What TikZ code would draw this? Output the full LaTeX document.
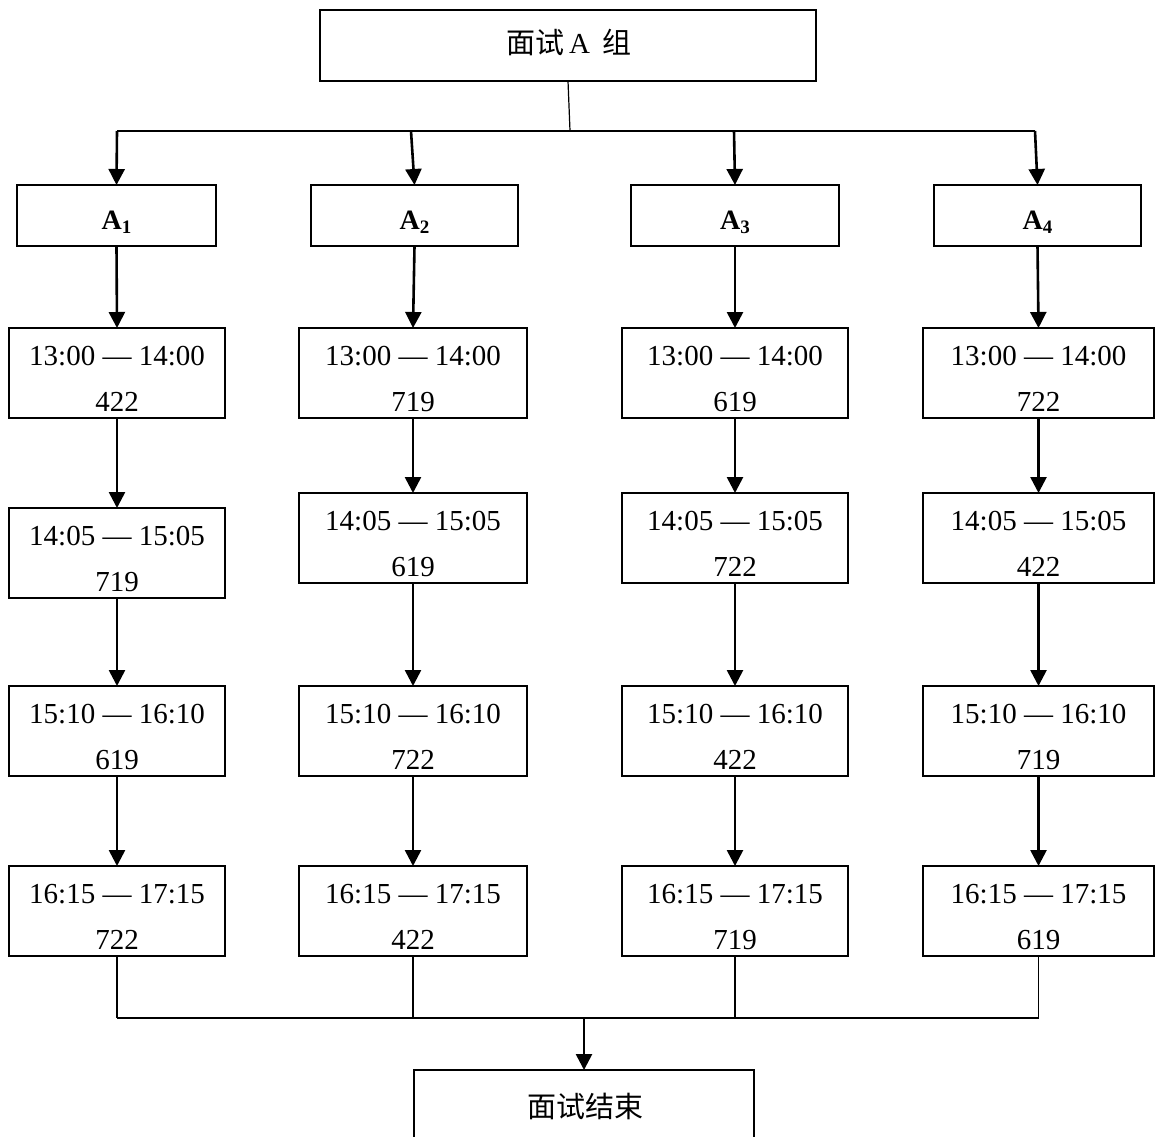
\documentclass[tikz,border=0pt]{standalone}
\usepackage{fontspec}
\setmainfont{Liberation Serif}
\newfontfamily\cjk{Noto Sans CJK SC}
\usetikzlibrary{arrows.meta}
\newcommand\mytbox[6]{%
  \node[box, minimum width=#4, minimum height=90] (#1) at (#2,#3+45) {};
  \node[lbl] (#1la) at (#2,#3+37) {#5};
  \node[lbl] (#1lb) at (#2,#3+83) {#6};
}
\newcommand\myabox[4]{%
  \node[box, minimum width=#3, minimum height=61] (#1) at (#2,215.5) {};
  \node[albl] (#1l) at (#2,229) {A\raisebox{-4pt}{\fontsize{19}{22}\selectfont #4}};
}
\begin{document}
\begin{tikzpicture}[x=1pt,y=-1pt,
  box/.style={draw, line width=1.5pt, inner sep=0pt, outer sep=0pt},
  lbl/.style={anchor=base, inner sep=0pt, font=\fontsize{29}{34}\selectfont},
  albl/.style={anchor=base, inner sep=0pt, font=\fontsize{28}{32}\selectfont\bfseries},
  arr/.style={line width=2.6pt, -{Triangle[length=16pt,width=16pt]}},
  thinl/.style={line width=1.2pt},
  midl/.style={line width=1.6pt},
]
\useasboundingbox (0,0) rectangle (1155,1136);
\fill[white] (0,0) rectangle (1155,1136);

% top box
\node[box, minimum width=496, minimum height=71] (top) at (568,45.5) {};
\node[anchor=base, inner sep=0pt, font=\fontsize{29}{34}\selectfont] (toptxt) at (569,53) {{\cjk 面试}\hspace{5pt}A\hspace{13pt}{\cjk 组}};

% A boxes
\myabox{a1}{116.5}{199}{1}
\myabox{a2}{414.5}{207}{2}
\myabox{a3}{735}{208}{3}
\myabox{a4}{1037.5}{207}{4}

% distribution lines
\coordinate (hub) at (570,131);
\coordinate (b1) at (117,131);
\coordinate (b2) at (411,131);
\coordinate (b3) at (734,131);
\coordinate (b4) at (1035,131);
\draw[thinl] (top.south) -- (hub);
\draw[midl] (b1) -- (b4);
\draw[arr] (b1) -- (a1.north);
\draw[arr] (b2) -- (a2.north);
\draw[arr] (b3) -- (a3.north);
\draw[arr] (b4) -- (a4.north);

% column 1
\mytbox{r1a}{117}{328}{216}{13:00 — 14:00}{422}
\mytbox{r2a}{117}{508}{216}{14:05 — 15:05}{719}
\mytbox{r3a}{117}{686}{216}{15:10 — 16:10}{619}
\mytbox{r4a}{117}{866}{216}{16:15 — 17:15}{722}
% column 2
\mytbox{r1b}{413}{328}{228}{13:00 — 14:00}{719}
\mytbox{r2b}{413}{493}{228}{14:05 — 15:05}{619}
\mytbox{r3b}{413}{686}{228}{15:10 — 16:10}{722}
\mytbox{r4b}{413}{866}{228}{16:15 — 17:15}{422}
% column 3
\mytbox{r1c}{735}{328}{226}{13:00 — 14:00}{619}
\mytbox{r2c}{735}{493}{226}{14:05 — 15:05}{722}
\mytbox{r3c}{735}{686}{226}{15:10 — 16:10}{422}
\mytbox{r4c}{735}{866}{226}{16:15 — 17:15}{719}
% column 4
\mytbox{r1d}{1038.5}{328}{231}{13:00 — 14:00}{722}
\mytbox{r2d}{1038.5}{493}{231}{14:05 — 15:05}{422}
\mytbox{r3d}{1038.5}{686}{231}{15:10 — 16:10}{719}
\mytbox{r4d}{1038.5}{866}{231}{16:15 — 17:15}{619}

% arrows down the columns
\draw[arr] (a1.south) -- (r1a.north);
\draw[arr] (a2.south) -- (r1b.north);
\draw[arr] (a3.south) -- (r1c.north);
\draw[arr] (a4.south) -- (r1d.north);
\foreach \c in {a,b,c,d}{
  \draw[arr] (r1\c.south) -- (r2\c.north);
  \draw[arr] (r2\c.south) -- (r3\c.north);
  \draw[arr] (r3\c.south) -- (r4\c.north);
}

% end box
\node[box, minimum width=340, minimum height=80] (end) at (584,1110) {};
\node[anchor=center, inner sep=0pt, font=\fontsize{29}{33}\selectfont\cjk] (endtxt) at (585,1106) {面试结束};

% merge lines
\coordinate (m1) at (117,1018);
\coordinate (m2) at (413,1018);
\coordinate (m3) at (735,1018);
\coordinate (m4) at (1038.5,1018);
\coordinate (mc) at (584,1018);
\draw[thinl] (r4a.south) -- (m1);
\draw[thinl] (r4b.south) -- (m2);
\draw[thinl] (r4c.south) -- (m3);
\draw[thinl] (r4d.south) -- (m4);
\draw[midl] (m1) -- (m4);
\draw[arr] (mc) -- (end.north);
\end{tikzpicture}
\end{document}
